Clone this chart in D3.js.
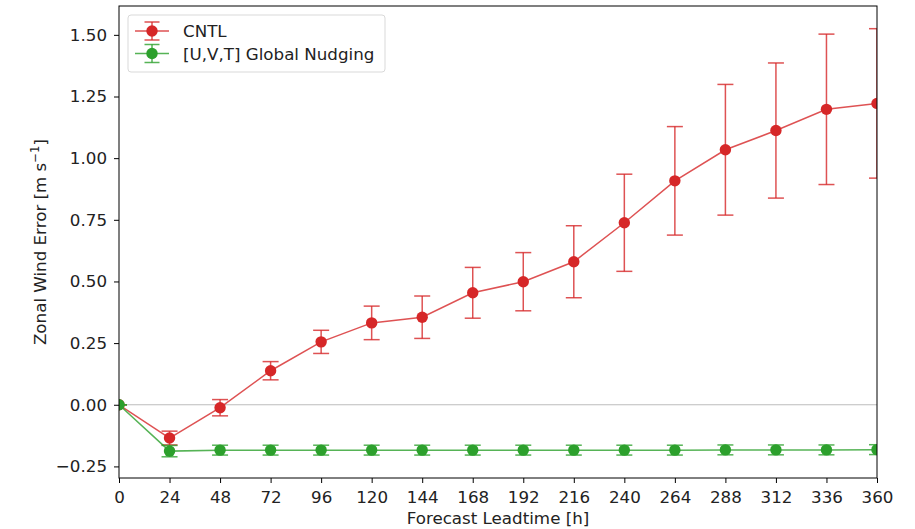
<!DOCTYPE html>
<html>
<head>
<meta charset="utf-8">
<script src="https://cdn.jsdelivr.net/npm/d3@7"></script>
<style>
body { margin: 0; background: #fff; }
text { font-family: "DejaVu Sans", sans-serif; }
</style>
</head>
<body>
<svg id="chart" width="915" height="529"></svg>
<script>
// lead times (h)
var leadtimes = [0, 24, 48, 72, 96, 120, 144, 168, 192, 216, 240, 264, 288, 312, 336, 360];
// CNTL mean error and error bar half width
var cntl = [0, -0.135, -0.012, 0.138, 0.255, 0.332, 0.355, 0.454, 0.499, 0.58, 0.738, 0.908, 1.034, 1.112, 1.198, 1.222];
var cntlErr = [0, 0.028, 0.033, 0.037, 0.047, 0.068, 0.086, 0.103, 0.118, 0.146, 0.197, 0.22, 0.265, 0.274, 0.305, 0.303];
// nudging run
var nudge = [0, -0.188, -0.184, -0.184, -0.184, -0.184, -0.184, -0.184, -0.184, -0.184, -0.184, -0.184, -0.183, -0.183, -0.183, -0.182];
var nudgeErr = [0, 0.023, 0.02, 0.02, 0.02, 0.02, 0.02, 0.02, 0.02, 0.02, 0.02, 0.02, 0.02, 0.02, 0.02, 0.02];
var yTicks = [-0.25, 0, 0.25, 0.5, 0.75, 1.0, 1.25, 1.5];

var series = [
  {name: "CNTL", vals: cntl, err: cntlErr, color: "#d62728"},
  {name: "[U,V,T] Global Nudging", vals: nudge, err: nudgeErr, color: "#2ca02c"}
];

var fs = 16.7;
var svg = d3.select("#chart");
var m = {left: 119, right: 38, top: 6, bottom: 51};
var w = 915 - m.left - m.right, h = 529 - m.top - m.bottom;

var x = d3.scaleLinear().domain([0, 360]).range([0, w]);
var y = d3.scaleLinear().domain([-0.297, 1.617]).range([h, 0]);

svg.append("defs").append("clipPath").attr("id", "clip")
  .append("rect").attr("width", w).attr("height", h);

var g = svg.append("g").attr("transform", "translate(" + m.left + "," + m.top + ")");
var plot = g.append("g").attr("clip-path", "url(#clip)");

// zero line
plot.append("line")
  .attr("x1", 0).attr("x2", w)
  .attr("y1", y(0)).attr("y2", y(0))
  .attr("stroke", "#bdbdbd").attr("stroke-width", 1);

var line = d3.line().x(function(d, i) { return x(leadtimes[i]); }).y(function(d) { return y(d); });
var cap = 8;

series.forEach(function(s) {
  var sg = plot.append("g");
  sg.append("path").datum(s.vals)
    .attr("d", line)
    .attr("fill", "none").attr("stroke", s.color).attr("stroke-opacity", 0.8).attr("stroke-width", 1.5);
  var eb = sg.selectAll(".eb").data(s.vals).enter().append("g").attr("class", "eb")
    .attr("stroke", s.color).attr("stroke-opacity", 0.8).attr("stroke-width", 1.5);
  eb.append("line")
    .attr("x1", function(d, i) { return x(leadtimes[i]); })
    .attr("x2", function(d, i) { return x(leadtimes[i]); })
    .attr("y1", function(d, i) { return y(d - s.err[i]); })
    .attr("y2", function(d, i) { return y(d + s.err[i]); });
  [-1, 1].forEach(function(sign) {
    eb.append("line")
      .attr("x1", function(d, i) { return x(leadtimes[i]) - cap; })
      .attr("x2", function(d, i) { return x(leadtimes[i]) + cap; })
      .attr("y1", function(d, i) { return y(d + sign * s.err[i]); })
      .attr("y2", function(d, i) { return y(d + sign * s.err[i]); });
  });
  sg.selectAll("circle").data(s.vals).enter().append("circle")
    .attr("cx", function(d, i) { return x(leadtimes[i]); })
    .attr("cy", function(d) { return y(d); })
    .attr("r", 5.7)
    .attr("fill", s.color);
});

// axes
var xAxis = g.append("g").attr("transform", "translate(0," + h + ")")
  .call(d3.axisBottom(x).tickValues(leadtimes).tickSize(5).tickPadding(8));
var yAxis = g.append("g")
  .call(d3.axisLeft(y).tickValues(yTicks).tickFormat(d3.format(".2f")).tickSize(5).tickPadding(7));
[xAxis, yAxis].forEach(function(a) {
  a.select(".domain").remove();
  a.selectAll("line").attr("stroke", "#000").attr("stroke-width", 1);
  a.selectAll("text").attr("font-size", fs).attr("fill", "#222").style("font-family", "DejaVu Sans");
});
yAxis.selectAll("text").text(function(d) { return d3.format(".2f")(d).replace("-", "\u2212"); });

g.append("rect").attr("width", w).attr("height", h)
  .attr("fill", "none").attr("stroke", "#000").attr("stroke-width", 1);

// labels
svg.append("text").attr("x", m.left + w / 2).attr("y", 524)
  .attr("text-anchor", "middle").attr("font-size", fs).attr("fill", "#222")
  .text("Forecast Leadtime [h]");
var yl = svg.append("text")
  .attr("transform", "translate(46," + (m.top + h / 2) + ") rotate(-90)")
  .attr("text-anchor", "middle").attr("font-size", fs).attr("fill", "#222");
yl.append("tspan").text("Zonal Wind Error [m s");
yl.append("tspan").attr("dy", -7).attr("font-size", 11.7).text("\u22121");
yl.append("tspan").attr("dy", 7).text("]");

// legend
var lg = svg.append("g").attr("transform", "translate(128,15)");
lg.append("rect").attr("width", 257).attr("height", 57).attr("rx", 3)
  .attr("fill", "#fff").attr("fill-opacity", 0.8).attr("stroke", "#d9d9d9");
series.forEach(function(s, i) {
  var ly = 16 + i * 22.5;
  var it = lg.append("g").attr("transform", "translate(0," + ly + ")");
  it.append("line").attr("x1", 7).attr("x2", 41).attr("y1", 0).attr("y2", 0)
    .attr("stroke", s.color).attr("stroke-opacity", 0.8).attr("stroke-width", 1.5);
  it.append("line").attr("x1", 24).attr("x2", 24).attr("y1", -9).attr("y2", 9)
    .attr("stroke", s.color).attr("stroke-opacity", 0.8).attr("stroke-width", 1.5);
  [-9, 9].forEach(function(dy) {
    it.append("line").attr("x1", 16.5).attr("x2", 31.5).attr("y1", dy).attr("y2", dy)
      .attr("stroke", s.color).attr("stroke-opacity", 0.8).attr("stroke-width", 1.5);
  });
  it.append("circle").attr("cx", 24).attr("cy", 0).attr("r", 5.7).attr("fill", s.color);
  it.append("text").attr("x", 55).attr("y", 6).attr("font-size", fs).attr("fill", "#222").text(s.name);
});
</script>
</body>
</html>
